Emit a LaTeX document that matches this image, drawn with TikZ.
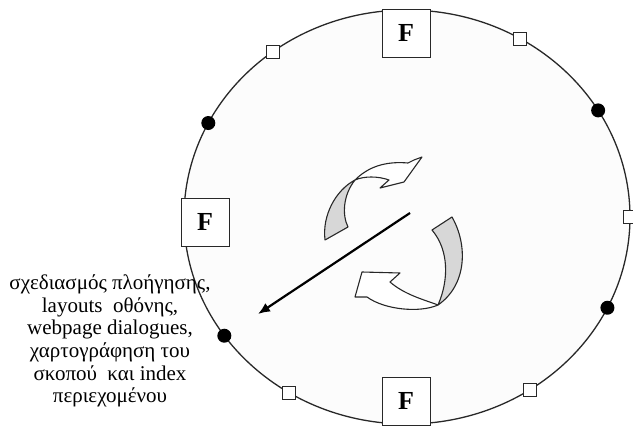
\documentclass[tikz,border=0pt]{standalone}
\usepackage{fontspec}
\setmainfont{Liberation Serif}
\definecolor{rimgray}{RGB}{40, 40, 40}
\definecolor{facegray}{RGB}{215, 215, 215}
\definecolor{innergray}{RGB}{252, 252, 252}
\usetikzlibrary{arrows.meta, positioning}
\tikzset{
	rim/.style={draw=rimgray, line width=1.3pt, fill=innergray},
	fbox/.style={rectangle, draw=rimgray, fill=white, line width=0.9pt, minimum width=48pt, minimum height=48pt, inner sep=0pt, font=\fontsize{26}{30}\selectfont\bfseries},
	port/.style={rectangle, draw=rimgray, fill=white, line width=0.8pt, minimum size=13pt, inner sep=0pt},
	dot/.style={circle, fill=black, minimum size=14pt, inner sep=0pt},
	backface/.style={draw=rimgray, fill=facegray, line width=1.1pt, line join=round},
	frontface/.style={draw=rimgray, fill=white, line width=1.1pt, line join=round},
	arrow/.style={-{Latex[length=12pt, width=10pt]}, line width=2.2pt, draw=black},
}

\begin{document}
\begin{tikzpicture}[x=1pt, y=-1pt]
		\useasboundingbox (0,0) rectangle (633,428);
		\draw[rim] (407,217) ellipse [x radius=223, y radius=207];
		% marks on the rim
		\foreach \a/\n in {207/dtl, -31/dtr, 145/dbl, 26/dbr}
			\node[dot] (\n) at ({407+223*cos(\a)},{217+207*sin(\a)}) {};
		\foreach \a/\n in {-127/ptl, -59.6/ptr, 122/pbl, 56.7/pbr, 0/pr}
			\node[port] (\n) at ({407+223*cos(\a)},{217+207*sin(\a)}) {};
		\node[fbox] (ftop) at (406,33) {F};
		\node[fbox] (fleft) at (205,222) {F};
		\node[fbox] (fbot) at (406,401) {F};
		% rotating arrows
		\filldraw[backface] (355,180) .. controls (336,190) and (322,215) .. (325,240) -- (348,227) .. controls (342,215) and (343,195) .. (355,180) -- cycle;
		\filldraw[frontface] (355,180) .. controls (368,167) and (385,161) .. (408,163) -- (414,160) -- (422,157) -- (404,182) -- (380,188) -- (389,180) .. controls (378,176) and (364,176) .. (355,180) -- cycle;
		\filldraw[backface] (452,217) .. controls (468,245) and (467,285) .. (438,305) .. controls (449,280) and (449,250) .. (432,230) -- cycle;
		\filldraw[frontface] (438,305) .. controls (420,313) and (385,310) .. (367,297) -- (355,297) -- (362,272) -- (400,273) -- (390,282) .. controls (405,295) and (425,300) .. (438,305) -- cycle;
		\coordinate (from) at (410,213);
		\coordinate (to) at (258,314);
		\draw[arrow] (from) -- (to);
		\node[align=center, font=\fontsize{21}{22.6}\selectfont] (steps) at (110,341) {σχεδιασμός πλοήγησης,\\layouts\ \ οθόνης,\\webpage dialogues,\\χαρτογράφηση του\\σκοπού\ \ και index\\περιεχομένου};
	\end{tikzpicture}
\end{document}
